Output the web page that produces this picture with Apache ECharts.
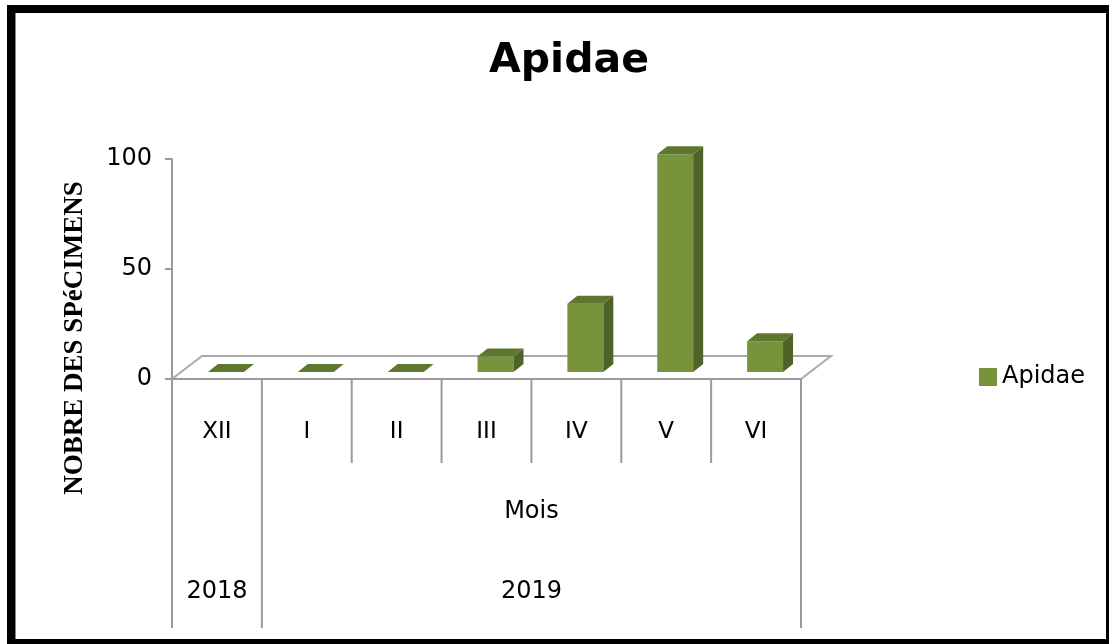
<!DOCTYPE html>
<html>
<head>
<meta charset="utf-8">
<script src="https://cdn.jsdelivr.net/npm/echarts@6/dist/echarts.min.js"></script>
<style>
html,body{margin:0;padding:0;background:#fff;}
#chart{width:1109px;height:644px;}
</style>
</head>
<body>
<div id="chart"></div>
<script>
const categories = ['XII', 'I', 'II', 'III', 'IV', 'V', 'VI'];
const values = [0, 0, 0, 7, 31, 99, 14];
const seriesName = 'Apidae';
const years = ['2018', '2019'];
const yearStart = [0, 1];
const yearEnd = [0, 6];
const xAxisTitle = 'Mois';
const yAxisTitle = 'NOBRE DES SPéCIMENS';
const chartTitle = 'Apidae';

const FRONT = '#77933C', SIDE = '#4F6228', TOP = '#5E772F';
const DX = 10, DY = -8;      // bar depth
const SX = 9, SY = -7;       // bar position inside floor depth
const FDX = 30, FDY = -23;   // floor depth
const TXT = '#000';

const chart = echarts.init(document.getElementById('chart'));

function renderFrame(params, api) {
  const n = categories.length;
  const cw = api.size([1, 0])[0];
  const p0 = api.coord([0, 0]);
  const left = p0[0] - cw / 2;
  const y0 = p0[1];
  const right = left + n * cw;
  const lineStyle = { stroke: '#9A9A9A', lineWidth: 2 };
  const children = [];
  children.push({
    type: 'polygon',
    shape: { points: [[left, y0], [right, y0], [right + FDX, y0 + FDY], [left + FDX, y0 + FDY]] },
    style: { fill: '#fff', stroke: '#AAAAAA', lineWidth: 2 }
  });
  children.push({ type: 'line', shape: { x1: left - 7, y1: y0, x2: right, y2: y0 }, style: lineStyle });
  const bounds = new Set();
  yearStart.forEach(s => bounds.add(s));
  yearEnd.forEach(e => bounds.add(e + 1));
  for (let k = 0; k <= n; k++) {
    const x = left + k * cw;
    const bottom = bounds.has(k) ? y0 + 249 : y0 + 84;
    children.push({ type: 'line', shape: { x1: x, y1: y0, x2: x, y2: bottom }, style: lineStyle });
  }
  const lastS = years.length - 1;
  years.forEach((yr, i) => {
    const cx = left + (yearStart[i] + yearEnd[i] + 1) / 2 * cw;
    children.push({
      type: 'text',
      style: { text: yr, x: cx, y: y0 + 213, align: 'center', verticalAlign: 'middle',
        fontSize: 24, fontFamily: 'DejaVu Sans', fill: TXT }
    });
  });
  const mx = left + (yearStart[lastS] + yearEnd[lastS] + 1) / 2 * cw;
  children.push({
    type: 'text',
    style: { text: xAxisTitle, x: mx, y: y0 + 133, align: 'center', verticalAlign: 'middle',
      fontSize: 24, fontFamily: 'DejaVu Sans', fill: TXT }
  });
  return { type: 'group', children: children };
}

function renderBar(params, api) {
  const i = api.value(0);
  const v = api.value(1);
  const base = api.coord([i, 0]);
  const top = api.coord([i, v]);
  const w = api.size([1, 0])[0] * 0.4;
  const x1 = base[0] + SX - w / 2;
  const x2 = x1 + w;
  const yb = base[1] + SY;
  const yt = top[1] + SY;
  const children = [];
  if (yb - yt > 0.5) {
    children.push({ type: 'rect', shape: { x: x1, y: yt, width: w, height: yb - yt }, style: { fill: FRONT } });
    children.push({ type: 'polygon', shape: { points: [[x2, yt], [x2 + DX, yt + DY], [x2 + DX, yb + DY], [x2, yb]] }, style: { fill: SIDE } });
  }
  children.push({ type: 'polygon', shape: { points: [[x1, yt], [x2, yt], [x2 + DX, yt + DY], [x1 + DX, yt + DY]] }, style: { fill: TOP } });
  return { type: 'group', children: children };
}

chart.setOption({
  animation: false,
  backgroundColor: '#fff',
  title: {
    text: chartTitle, left: 564, top: 36, textAlign: 'center',
    textStyle: { fontFamily: 'DejaVu Sans', fontWeight: 'bold', fontSize: 41, color: '#000' }
  },
  legend: {
    data: [seriesName], left: 974, top: 360, icon: 'rect', itemWidth: 18, itemHeight: 18, itemGap: 8,
    textStyle: { fontFamily: 'DejaVu Sans', fontSize: 24, color: TXT }
  },
  grid: { left: 172, right: 308, top: 159, bottom: 265 },
  xAxis: {
    type: 'category', data: categories, boundaryGap: true,
    axisLine: { show: false }, axisTick: { show: false },
    axisLabel: { margin: 42, fontFamily: 'DejaVu Sans', fontSize: 23, color: TXT }
  },
  yAxis: {
    type: 'value', min: 0, max: 100, interval: 50,
    axisLine: { show: true, lineStyle: { color: '#9A9A9A', width: 2 } },
    axisTick: { show: true, length: 7, lineStyle: { color: '#9A9A9A', width: 2 } },
    splitLine: { show: false },
    axisLabel: { margin: 20, fontFamily: 'DejaVu Sans', fontSize: 24, color: TXT }
  },
  graphic: [
    { type: 'text', x: 75, y: 338, rotation: Math.PI / 2,
      style: { text: yAxisTitle, align: 'center', verticalAlign: 'middle',
        fontFamily: 'Liberation Serif', fontWeight: 'bold', fontSize: 27, fill: '#000' } },
    { type: 'rect', shape: { x: 7, y: 5, width: 8, height: 639 }, style: { fill: '#000' } },
    { type: 'rect', shape: { x: 7, y: 5, width: 1102, height: 8 }, style: { fill: '#000' } },
    { type: 'rect', shape: { x: 1106, y: 5, width: 3, height: 639 }, style: { fill: '#000' } },
    { type: 'rect', shape: { x: 7, y: 639, width: 1102, height: 5 }, style: { fill: '#000' } },
    { type: 'rect', shape: { x: 15, y: 13, width: 1, height: 626 }, style: { fill: '#888' } }
  ],
  series: [
    { type: 'custom', name: 'frame', renderItem: renderFrame, data: [[0, 0]], z: 1, silent: true, clip: false },
    { type: 'custom', name: seriesName, renderItem: renderBar, itemStyle: { color: FRONT },
      data: values.map((v, i) => [i, v]), z: 3, clip: false, encode: { x: 0, y: 1 } }
  ]
});
</script>
</body>
</html>
